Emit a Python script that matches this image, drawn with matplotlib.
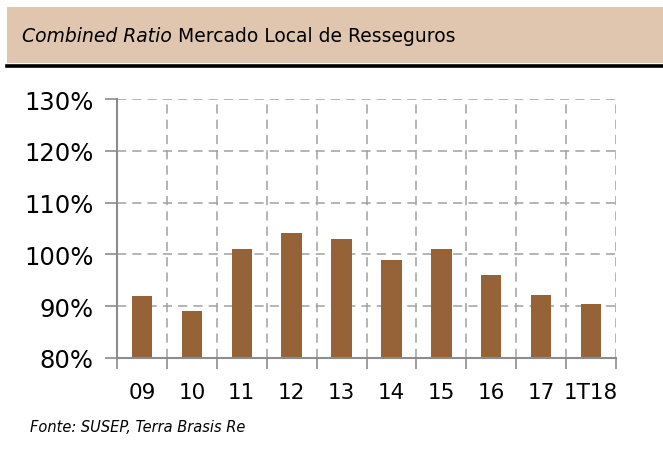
import matplotlib
matplotlib.use("Agg")
import matplotlib.pyplot as plt
from matplotlib.patches import Rectangle
from matplotlib.lines import Line2D
import numpy as np

categories = ["09", "10", "11", "12", "13", "14", "15", "16", "17", "1T18"]
values = [92.0, 89.0, 101.0, 104.2, 102.9, 98.9, 101.0, 96.0, 92.2, 90.4]
yticks = [80, 90, 100, 110, 120, 130]
title_italic = "Combined Ratio"
title_rest = " Mercado Local de Resseguros"
source = "Fonte: SUSEP, Terra Brasis Re"

W, H = 663, 456
fig = plt.figure(figsize=(W / 100, H / 100), dpi=100)
plt.rcParams['font.family'] = ['DejaVu Sans']

# title band
fig.patches.append(Rectangle((7 / W, 1 - 64 / H), 1 - 7 / W, 56 / H, transform=fig.transFigure,
                             facecolor="#E0C6AF", edgecolor="none"))
fig.lines.append(Line2D([7 / W, 1], [1 - 67 / H, 1 - 67 / H], transform=fig.transFigure,
                        color="black", lw=2.6))

t1 = fig.text(22 / W, 1 - 37 / H, title_italic, fontsize=13.5, style="italic", va="center", ha="left")
fig.canvas.draw()
bb = t1.get_window_extent()
fig.text(bb.x1 / W, 1 - 37 / H, title_rest, fontsize=13.5, va="center", ha="left")

ax = fig.add_axes([117 / W, 1 - 359 / H, (616 - 117) / W, (359 - 100) / H])
x = np.arange(len(categories))
ax.bar(x, values, width=0.41, color="#956337", bottom=0, zorder=3)
ax.set_ylim(80, 130)
ax.set_xlim(-0.5, len(categories) - 0.5)
ax.set_yticks(yticks)
ax.set_yticklabels([f"{v}%" for v in yticks], fontsize=17.5)
ax.set_xticks(x)
ax.set_xticklabels(categories, fontsize=15.5)
ax.set_xticks(np.arange(-0.5, len(categories)), minor=True)
ax.tick_params(axis="x", which="major", length=0, pad=17)
ax.tick_params(axis="x", which="minor", length=8, color="#8C8C8C", width=1.2)
ax.tick_params(axis="y", length=9, color="#8C8C8C", width=1.2, pad=8)
ax.grid(axis="y", which="major", color="#A0A0A0", linestyle=(0, (6, 4)), lw=1.1, zorder=1)
ax.grid(axis="x", which="minor", color="#A0A0A0", linestyle=(0, (6, 4)), lw=1.1, zorder=1)
for s in ["top", "right"]:
    ax.spines[s].set_visible(False)
for s in ["left", "bottom"]:
    ax.spines[s].set_color("#8C8C8C")
    ax.spines[s].set_linewidth(1.5)
ax.spines["bottom"].set_zorder(4)

fig.text(30 / W, 1 - 428 / H, source, fontsize=10.5, style="italic", va="center", ha="left")

fig.savefig("out.png", dpi=100)
